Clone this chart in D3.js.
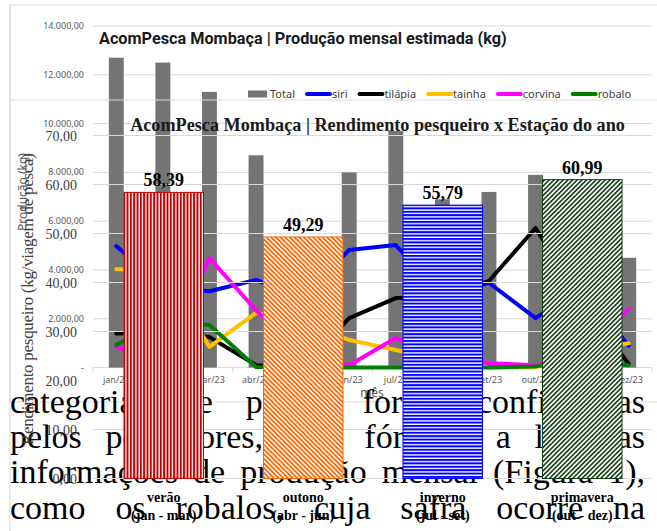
<!DOCTYPE html>
<html><head><meta charset="utf-8">
<script src="https://cdn.jsdelivr.net/npm/d3@7"></script>
<style>html,body{margin:0;padding:0;background:#fff;}svg{display:block;}</style>
</head><body>
<svg id="c" width="657" height="531"></svg>
<script>
// ---- Produção mensal estimada (kg) ----
const months = ["jan/23","fev/23","mar/23","abr/23","mai/23","jun/23","jul/23","ago/23","set/23","out/23","nov/23","dez/23"];
const totalKg = [12700,12500,11300,8700,5350,8000,9700,6900,7200,7900,7500,4500];
const siri    = [4980,3300,3130,3590,2900,4820,5020,2930,3470,2030,3180,900];
const tilapia = [1400,1450,1250,100,0,2030,2850,2900,3550,5720,2700,150];
const tainha  = [4030,4030,850,2240,1900,1130,720,300,0,0,700,1000];
const corvina = [850,200,4490,2350,450,100,1210,500,180,100,500,2400];
const robalo  = [930,1900,1750,20,0,0,0,0,0,50,300,100];
const speciesNames = ["siri","tilápia","tainha","corvina","robalo"];
const speciesColors = ["#0000FF","#000000","#FFC000","#FF00FF","#008000"];
const prodTicks = [0,2000,4000,6000,8000,10000,12000,14000];

// ---- Rendimento pesqueiro x Estação do ano ----
const seasons = ["verão","outono","inverno","primavera"];
const seasonMonths = ["(jan - mar)","(abr - jun)","(jul - set)","(out - dez)"];
const yieldKgTrip = [58.39,49.29,55.79,60.99];
const yieldTicks = [0,10,20,30,40,50,60,70];

// ---- texto do documento ----
const bodyLines = [
  "categorias de pesca, foram confirmadas",
  "pelos pescadores, e a fórmula a luz das",
  "informações de produção mensal (Figura 1),",
  "como os robalos, cuja safra ocorre na"
];

const br = d3.formatLocale({decimal:",", thousands:".", grouping:[3], currency:["R$",""]});
const fmt2 = br.format(",.2f");
const svg = d3.select("#c");
const SANS = "'Noto Sans', 'Liberation Sans', sans-serif";
const SERIF = "'Liberation Serif', 'DejaVu Serif', serif";

function fitWidth(sel, target) {
  const w = sel.node().getComputedTextLength();
  const fs = parseFloat(sel.attr("font-size"));
  sel.attr("font-size", fs * target / w);
}

// ================= Chart 1 =================
const c1 = svg.append("g");
c1.append("rect").attr("x",10).attr("y",5).attr("width",660).attr("height",397)
  .attr("fill","#fff").attr("stroke","#d9d9d9");

const x1 = d3.scaleBand().domain(months).range([93,652]).paddingInner(0.68).paddingOuter(0.34);
const y1 = d3.scaleLinear().domain([0,14000]).range([367.6,26]);
const cx1 = m => x1(m) + x1.bandwidth()/2;

c1.selectAll("line.g1").data(prodTicks).join("line")
  .attr("x1",93).attr("x2",652).attr("y1",d=>y1(d)).attr("y2",d=>y1(d))
  .attr("stroke","#d9d9d9").attr("stroke-width",1);
// category boundary ticks
const step1 = x1.step();
c1.selectAll("line.t1").data(d3.range(months.length+1)).join("line")
  .attr("x1",k=>93+k*step1).attr("x2",k=>93+k*step1)
  .attr("y1",y1(0)).attr("y2",y1(0)+5).attr("stroke","#d9d9d9");

c1.selectAll("text.yt").data(prodTicks).join("text")
  .attr("x",84).attr("y",d=>y1(d)+3).attr("text-anchor","end")
  .attr("font-family",SANS).attr("font-size",9).attr("fill","#595959")
  .text(d=> d===0 ? "-" : fmt2(d));

c1.selectAll("text.xt").data(months).join("text")
  .attr("x",cx1).attr("y",383).attr("text-anchor","middle")
  .attr("font-family",SANS).attr("font-size",9).attr("fill","#595959").text(d=>d);

c1.selectAll("rect.bar").data(months).join("rect")
  .attr("x",m=>x1(m)).attr("width",x1.bandwidth())
  .attr("y",(m,i)=>y1(totalKg[i])).attr("height",(m,i)=>y1(0)-y1(totalKg[i]))
  .attr("fill","#747474");

const seriesData = [siri,tilapia,tainha,corvina,robalo];
const line1 = d3.line().x((v,i)=>cx1(months[i])).y(v=>y1(v));
seriesData.forEach((s,k)=>{
  c1.append("path").attr("d",line1(s)).attr("fill","none")
    .attr("stroke",speciesColors[k]).attr("stroke-width",4)
    .attr("stroke-linejoin","round").attr("stroke-linecap","round");
});

const t1 = c1.append("text").attr("x",99).attr("y",44)
  .attr("font-family","Roboto, "+SANS).attr("font-weight",700).attr("font-size",16)
  .attr("fill","#1a1a1a").text("AcomPesca Mombaça | Produção mensal estimada (kg)");
fitWidth(t1, 408);

// legend
let lx = 248; const ly = 94;
c1.append("rect").attr("x",lx).attr("y",ly-3.5).attr("width",19).attr("height",7).attr("fill","#747474");
let lt = c1.append("text").attr("x",lx+22).attr("y",ly+4).attr("font-family",SANS)
  .attr("font-size",11).attr("fill","#404040").text("Total");
lx += 22 + lt.node().getComputedTextLength() + 12;
speciesNames.forEach((n,k)=>{
  c1.append("line").attr("x1",lx).attr("x2",lx+23).attr("y1",ly).attr("y2",ly)
    .attr("stroke",speciesColors[k]).attr("stroke-width",4).attr("stroke-linecap","round");
  const t = c1.append("text").attr("x",lx+25).attr("y",ly+4).attr("font-family",SANS)
    .attr("font-size",11).attr("fill","#404040").text(n);
  lx += 25 + t.node().getComputedTextLength() + 12;
});

c1.append("text").attr("x",372).attr("y",397).attr("text-anchor","middle")
  .attr("font-family",SANS).attr("font-size",12).attr("fill","#595959").text("mês");
c1.append("text").attr("transform","translate(27,192) rotate(-90)").attr("text-anchor","middle")
  .attr("font-family",SANS).attr("font-size",12).attr("fill","#595959").text("Produção (kg)");

// ================= Document text =================
const doc = svg.append("g").attr("font-family",SERIF).attr("font-size",34).attr("fill","#000");
const baselines = [413,448,483,519];
bodyLines.forEach((ln,i)=>{
  const words = ln.split(" ");
  const nodes = words.map(w=>doc.append("text").attr("y",baselines[i]).text(w));
  const widths = nodes.map(n=>n.node().getComputedTextLength());
  const gap = (645 - 10 - d3.sum(widths)) / (words.length-1);
  let x = 10;
  nodes.forEach((n,j)=>{ n.attr("x",x); x += widths[j] + gap; });
});

// ================= Chart 2 =================
const c2 = svg.append("g");
const defs = svg.append("defs");
function stripes(id, color, period, thick, angle) {
  const p = defs.append("pattern").attr("id",id).attr("patternUnits","userSpaceOnUse")
    .attr("width",period).attr("height",10).attr("patternTransform",`rotate(${angle})`);
  p.append("rect").attr("width",period).attr("height",10).attr("fill","#fff");
  p.append("rect").attr("width",thick).attr("height",10).attr("fill",color);
}
const barColors = ["#C00000","#FF6600","#0000FF","#143F14"];
stripes("pv", barColors[0], 3.33, 2.0, 0);
stripes("po", barColors[1], 3.3, 1.8, -45);
stripes("pi", barColors[2], 3.4, 2.0, 90);
stripes("pp", barColors[3], 3.3, 1.6, 45);
const patIds = ["pv","po","pi","pp"];

c2.append("line").attr("x1",10).attr("x2",657).attr("y1",100).attr("y2",100).attr("stroke","#d9d9d9");
c2.append("line").attr("x1",10).attr("x2",10).attr("y1",5).attr("y2",531).attr("stroke","#d9d9d9");

const x2 = d3.scaleBand().domain(seasons).range([94,652]).paddingInner(0.43).paddingOuter(0.215);
const y2 = d3.scaleLinear().domain([0,70]).range([478.5,135.5]);

c2.selectAll("line.g2").data(yieldTicks.filter(t=>t!==20)).join("line")
  .attr("x1",93).attr("x2",652).attr("y1",d=>y2(d)).attr("y2",d=>y2(d))
  .attr("stroke","#d9d9d9");

c2.selectAll("text.yt2").data(yieldTicks).join("text")
  .attr("x",77).attr("y",d=>y2(d)+5).attr("text-anchor","end")
  .attr("font-family",SERIF).attr("font-size",14).attr("fill","#404040").text(d=>fmt2(d));

c2.append("text").attr("transform","translate(33,299) rotate(-90)").attr("text-anchor","middle")
  .attr("font-family",SERIF).attr("font-size",17).attr("fill","#404040")
  .attr("textLength",292).attr("lengthAdjust","spacing")
  .text("Rendimento pesqueiro  (kg/viagem de pesca)");

const t2 = c2.append("text").attr("x",377.5).attr("y",131).attr("text-anchor","middle")
  .attr("font-family",SERIF).attr("font-weight",700).attr("font-size",17).attr("fill","#1a1a1a")
  .text("AcomPesca Mombaça | Rendimento pesqueiro x Estação do ano");
fitWidth(t2, 495);

c2.selectAll("rect.sb").data(seasons).join("rect")
  .attr("x",s=>x2(s)).attr("width",x2.bandwidth())
  .attr("y",(s,i)=>y2(yieldKgTrip[i])).attr("height",(s,i)=>y2(0)-y2(yieldKgTrip[i]))
  .attr("fill",(s,i)=>`url(#${patIds[i]})`)
  .attr("stroke",(s,i)=>barColors[i]).attr("stroke-width",1);

c2.selectAll("text.vl").data(seasons).join("text")
  .attr("x",s=>x2(s)+x2.bandwidth()/2).attr("y",(s,i)=>y2(yieldKgTrip[i])-6)
  .attr("text-anchor","middle").attr("font-family",SERIF).attr("font-weight",700)
  .attr("font-size",18).attr("fill","#000").text((s,i)=>fmt2(yieldKgTrip[i]));

c2.selectAll("text.cl").data(seasons).join("text")
  .attr("x",s=>x2(s)+x2.bandwidth()/2).attr("y",502)
  .attr("text-anchor","middle").attr("font-family",SERIF).attr("font-weight",700)
  .attr("font-size",14).attr("fill","#000").text(s=>s);
c2.selectAll("text.cm").data(seasons).join("text")
  .attr("x",s=>x2(s)+x2.bandwidth()/2).attr("y",520)
  .attr("text-anchor","middle").attr("font-family",SERIF).attr("font-weight",700)
  .attr("font-size",14).attr("fill","#000").text((s,i)=>seasonMonths[i]);
</script>
</body></html>
